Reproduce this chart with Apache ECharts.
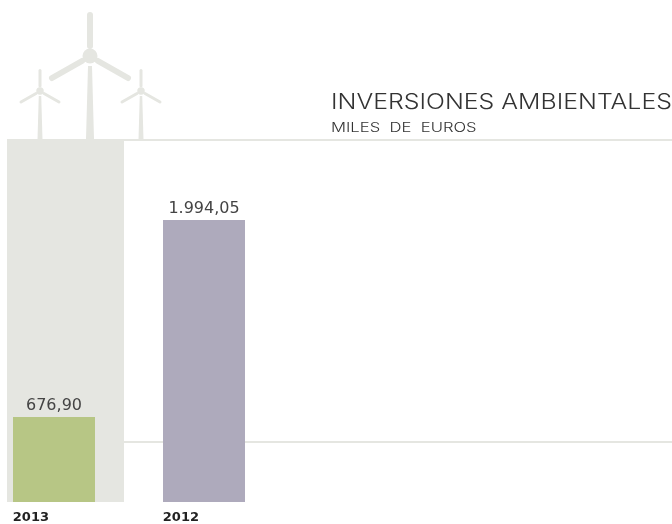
<!DOCTYPE html>
<html><head><meta charset="utf-8">
<style>html,body{margin:0;padding:0;background:#fff}#c{width:672px;height:524px}</style>
<script src="https://cdn.jsdelivr.net/npm/echarts@6/dist/echarts.min.js"></script>
</head><body><div id="c"></div>
<script>
const categories = ['2013', '2012'];
const values = [676.90, 1994.05];
const valueLabels = ['676,90', '1.994,05'];
const barColors = ['#b7c685', '#aeaabc'];
const ruleValues = [510, 2529];
const titleText = 'INVERSIONES AMBIENTALES';
const subtitleText = 'MILES  DE  EUROS';

const FONT = '"DejaVu Sans", sans-serif';
const PALE = '#e5e6e1';

function turbine(hx, hy, s) {
  const w = Math.max(s, 0.62);
  const blade = (x1, y1, x2, y2) => ({
    type: 'line', silent: true,
    shape: { x1: hx + x1 * s, y1: hy + y1 * s, x2: hx + x2 * s, y2: hy + y2 * s },
    style: { stroke: PALE, lineWidth: 6 * s, lineCap: 'round' }
  });
  return [
    { type: 'circle', silent: true, shape: { cx: hx, cy: hy, r: 7.5 * s }, style: { fill: PALE } },
    { type: 'polygon', silent: true,
      shape: { points: [[hx - 2 * w, hy + 10 * s], [hx + 2 * w, hy + 10 * s], [hx + 4 * w, 139], [hx - 4 * w, 139]] },
      style: { fill: PALE } },
    blade(0, -41, 0, -10),
    blade(-8, 5, -38, 22),
    blade(8, 5, 38, 22)
  ];
}

const chart = echarts.init(document.getElementById('c'), null, { renderer: 'canvas' });
chart.setOption({
  animation: false,
  backgroundColor: '#fff',
  grid: { left: -21, right: -57, top: 140, bottom: 22, outerBoundsMode: 'none' },
  xAxis: {
    type: 'category',
    data: categories.concat(['', '', '']),
    axisLine: { show: false }, axisTick: { show: false },
    axisLabel: {
      align: 'right', padding: [0, 5, 0, 0], margin: 9,
      fontFamily: FONT, fontSize: 13, fontWeight: 'bold', color: '#222'
    }
  },
  yAxis: { type: 'value', min: 108.6, max: 2529, show: false, splitLine: { show: false } },
  series: [{
    type: 'bar', barWidth: 82, z: 3,
    data: values.map((v, i) => ({ value: v, itemStyle: { color: barColors[i] } })),
    label: {
      show: true, position: 'top', distance: 3,
      formatter: p => valueLabels[p.dataIndex],
      fontFamily: FONT, fontSize: 16, color: '#444'
    },
    markLine: {
      silent: true, symbol: 'none', z: 1, animation: false,
      label: { show: false },
      lineStyle: { color: PALE, width: 2, type: 'solid' },
      data: ruleValues.map(v => [{ x: 7, yAxis: v }, { x: 672, yAxis: v }])
    }
  }],
  graphic: { elements: [
    { type: 'rect', silent: true, z: 2, shape: { x: 7, y: 139, width: 117, height: 363 }, style: { fill: PALE } },
    { type: 'group', silent: true, z: 2, children: turbine(90, 56, 1) },
    { type: 'group', silent: true, z: 2, children: turbine(40, 91, 0.5) },
    { type: 'group', silent: true, z: 2, children: turbine(141, 91, 0.5) },
    { type: 'text', silent: true, x: 331, y: 102.5, scaleX: 1.185,
      style: { text: titleText, fontFamily: 'Inter', fontSize: 21, fontWeight: 300, fill: '#333', verticalAlign: 'middle' } },
    { type: 'text', silent: true, x: 331, y: 128, scaleX: 1.28,
      style: { text: subtitleText, fontFamily: 'Inter', fontSize: 13, fontWeight: 300, fill: '#333', verticalAlign: 'middle' } }
  ] }
});
</script></body></html>
